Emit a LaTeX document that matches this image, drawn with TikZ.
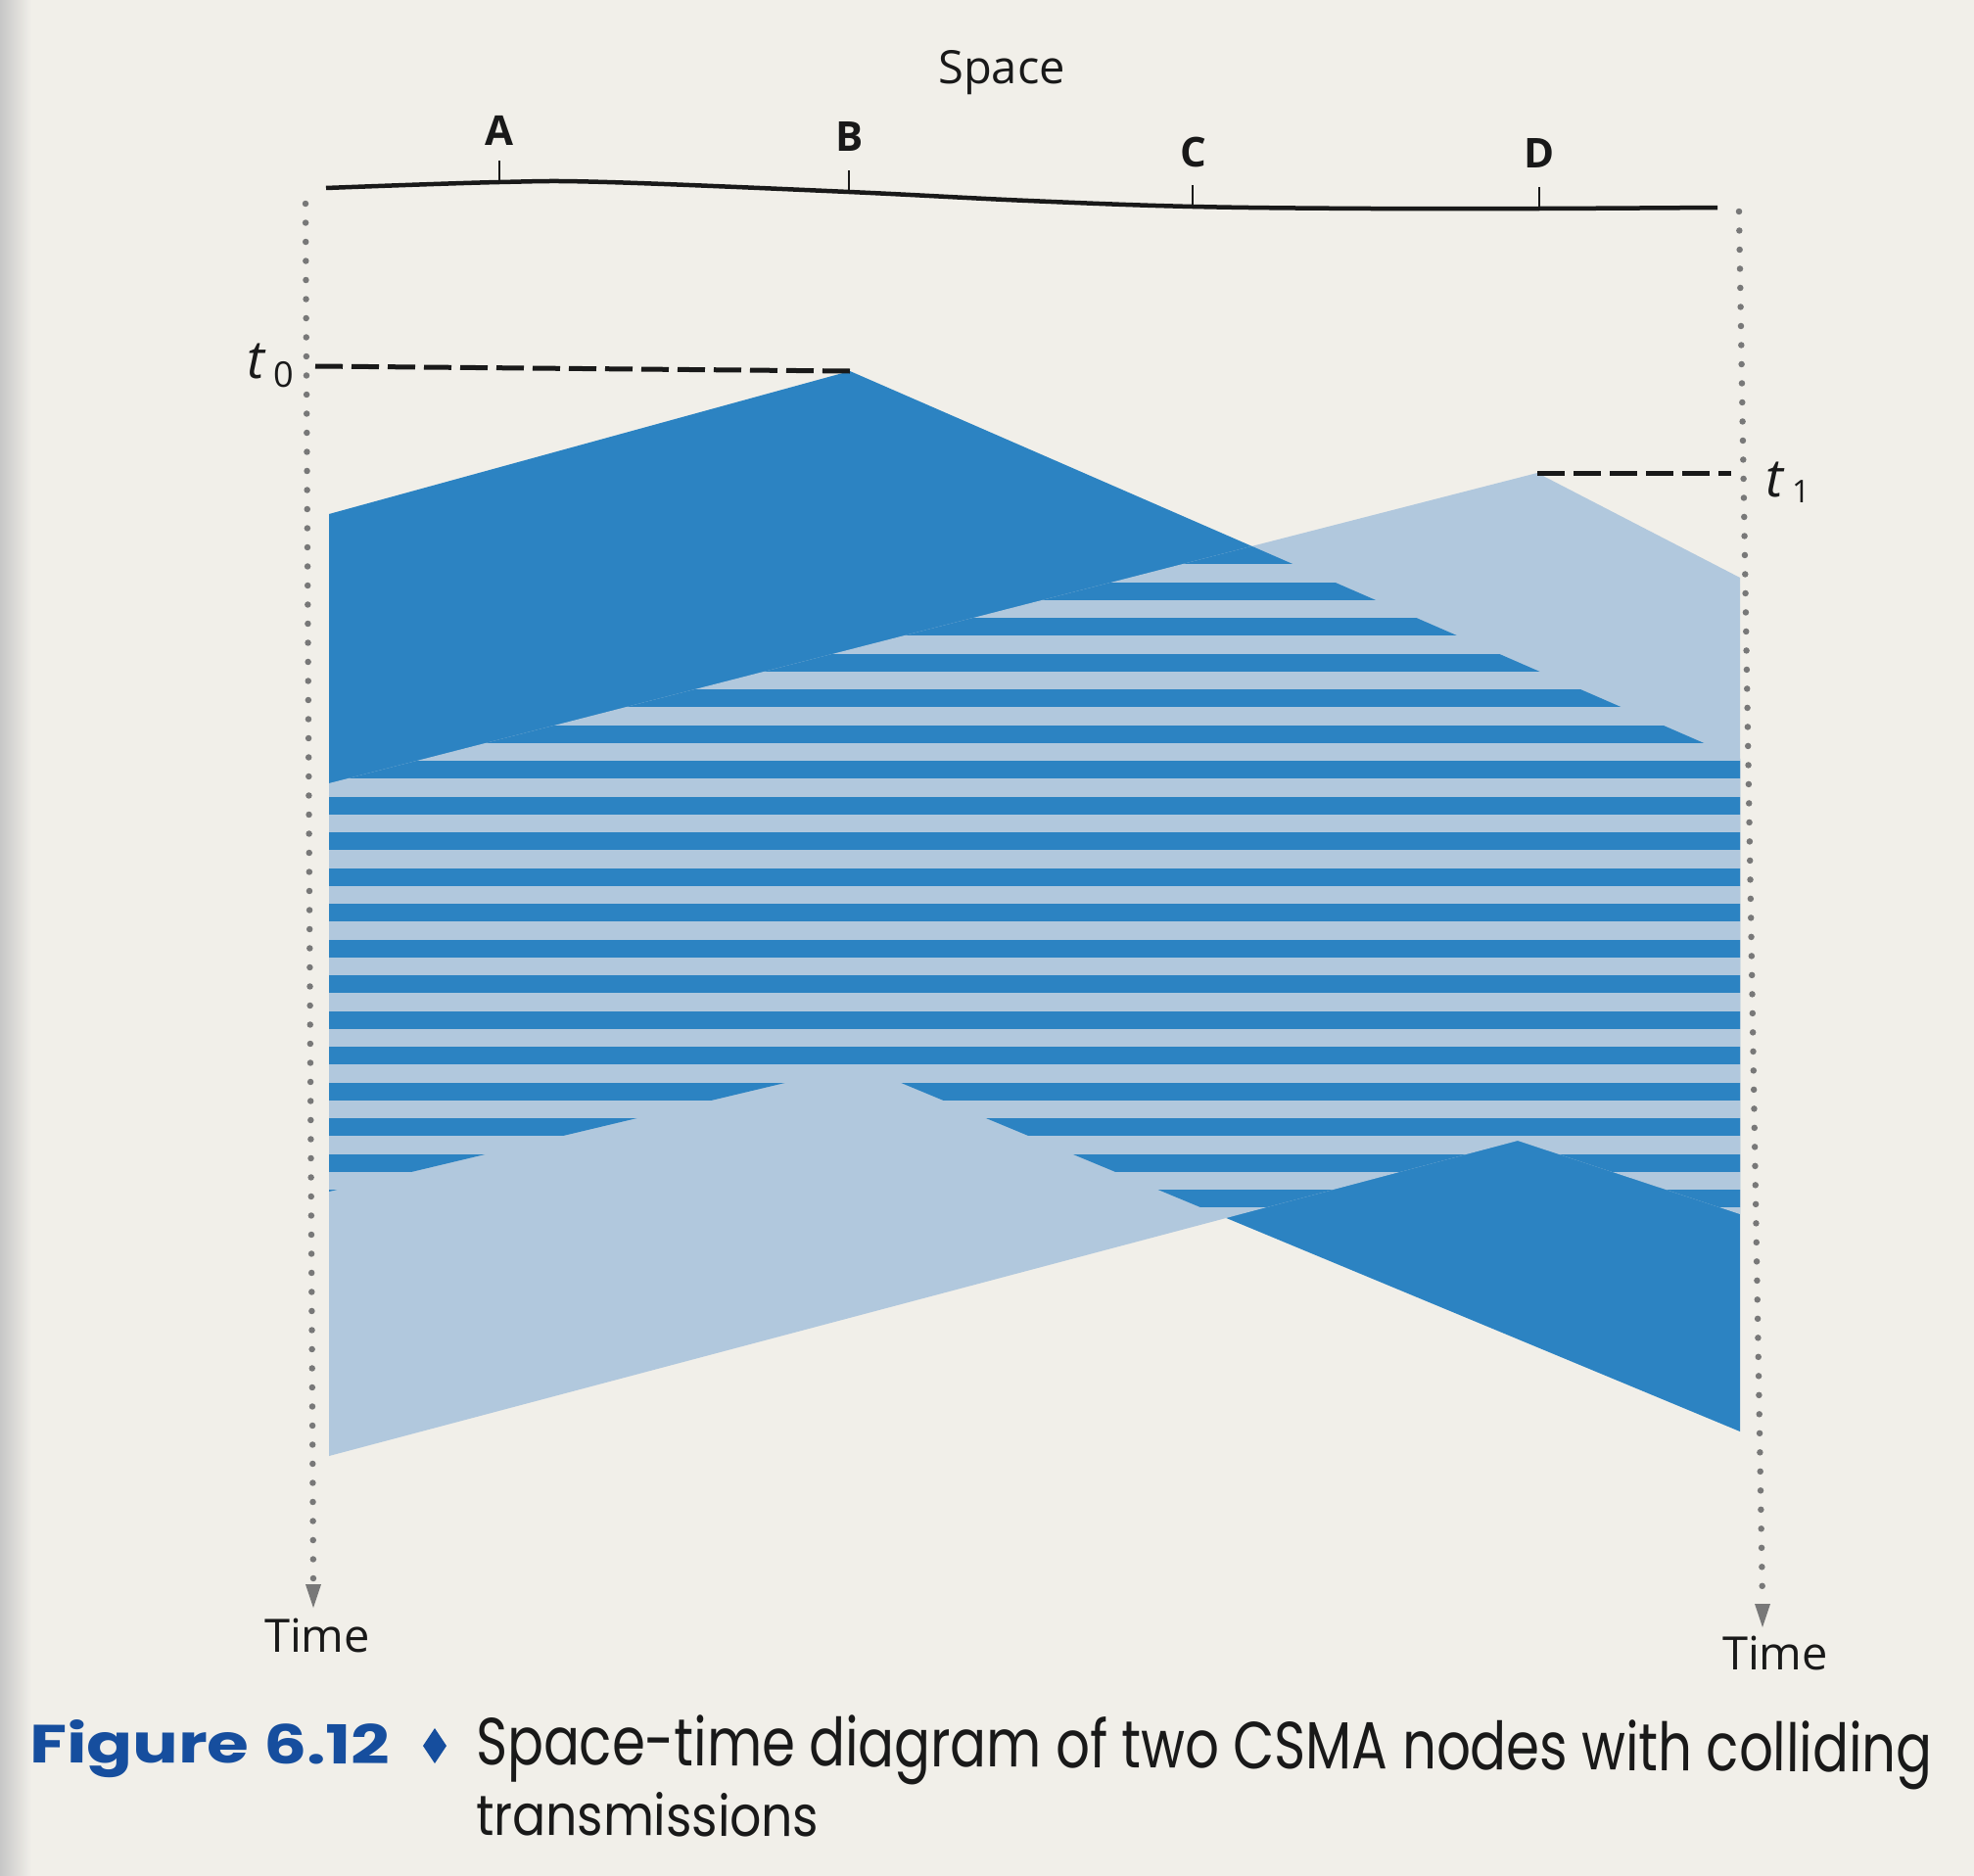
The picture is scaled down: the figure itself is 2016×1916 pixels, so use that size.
\documentclass[tikz,border=0pt]{standalone}
\usepackage{fontspec}
\usepackage{graphicx}
\setmainfont{Open Sans}
\newfontfamily\capfont{Poppins}
\definecolor{paper}{RGB}{241,239,233}
\definecolor{bdark}{RGB}{44,131,194}
\definecolor{blight}{RGB}{177,200,221}
\definecolor{figblue}{RGB}{22,78,158}
\definecolor{dotgray}{RGB}{120,120,120}
\definecolor{ink}{RGB}{25,25,25}
\begin{document}
\begin{tikzpicture}[x=1pt,y=-1pt,
  axisline/.style={line width=4.5pt, ink},
  tickmark/.style={line width=2pt, ink},
  nodelbl/.style={font=\bfseries\fontsize{42}{44}\selectfont, text=ink, inner sep=0pt},
  axlbl/.style={font=\fontsize{47}{50}\selectfont, text=ink, inner sep=0pt},
  tlbl/.style={font=\fontsize{54}{56}\selectfont, text=ink, inner sep=0pt},
  dashline/.style={line width=5pt, ink, dash pattern=on 28pt off 9pt},
  dotaxis/.style={line width=6.5pt, dotgray, line cap=round, dash pattern=on 0pt off 19.5pt},
  arrowtri/.style={fill=dotgray},
  capline/.style={font=\capfont, text=ink, inner sep=0pt},
]
\useasboundingbox (0,0) rectangle (2016,1916);
\fill[paper] (0,0) rectangle (2016,1916);
\shade[left color=black!22, right color=paper] (0,0) rectangle (32,1916);

% vertices of the two transmissions
\coordinate (d1) at (868,379);
\coordinate (d2) at (336,525);
\coordinate (d3) at (336,1217);
\coordinate (d4) at (877,1088);
\coordinate (d5) at (1777,1462);
\coordinate (d6) at (1777,775);
\coordinate (l1) at (1570,483);
\coordinate (l2) at (336,800);
\coordinate (l3) at (336,1487);
\coordinate (l4) at (1550,1165);
\coordinate (l5) at (1777,1240);
\coordinate (l6) at (1777,590);

\fill[bdark] (d1) -- (d2) -- (d3) -- (d4) -- (d5) -- (d6) -- cycle;
\fill[blight] (l1) -- (l2) -- (l3) -- (l4) -- (l5) -- (l6) -- cycle;
\begin{scope}
  \clip (d1) -- (d2) -- (d3) -- (d4) -- (d5) -- (d6) -- cycle;
  \clip (l1) -- (l2) -- (l3) -- (l4) -- (l5) -- (l6) -- cycle;
  \foreach \k in {-8,...,13}
    \fill[bdark] (320,777+36.5*\k) rectangle (1800,795+36.5*\k);
\end{scope}

% space axis
\draw[axisline] plot[smooth, tension=0.6] coordinates {(333,192) (510,186) (620,186) (867,196) (1050,205) (1218,211) (1400,213) (1572,213) (1754,212)};
\coordinate (tA) at (510,186);
\coordinate (tB) at (867,196);
\coordinate (tC) at (1218,211);
\coordinate (tD) at (1572,213);
\draw[tickmark] (tA) -- ++(0,-22);
\draw[tickmark] (tB) -- ++(0,-22);
\draw[tickmark] (tC) -- ++(0,-22);
\draw[tickmark] (tD) -- ++(0,-22);
\node[nodelbl] (A) at (510,133) {A};
\node[nodelbl] (B) at (868,140) {B};
\node[nodelbl] (C) at (1219,155) {C};
\node[nodelbl] (D) at (1572,157) {D};
\node[axlbl] (space) at (1023,74) {Space};

% time axes
\coordinate (LTop) at (312,208);
\coordinate (LEnd) at (320,1618);
\coordinate (RTop) at (1776,216);
\coordinate (REnd) at (1800,1638);
\draw[dotaxis] (LTop) -- (LEnd);
\draw[dotaxis] (RTop) -- (REnd);
\fill[arrowtri] (LEnd) ++(-8,0) -- ++(16,0) -- ++(-8,24) -- cycle;
\fill[arrowtri] (REnd) ++(-8,0) -- ++(16,0) -- ++(-8,24) -- cycle;
\node[axlbl] (timeL) at (324,1670) {Time};
\node[axlbl] (timeR) at (1813,1688) {Time};

% t0 and t1
\node[tlbl, anchor=base west] (t0) at (252,386) {\itshape t\,\raisebox{-9pt}{\upshape\fontsize{36}{38}\selectfont 0}};
\coordinate (t0a) at (322,374);
\draw[dashline] (t0a) -- (d1);
\node[tlbl, anchor=base west] (t1) at (1803,507) {\itshape t\,\raisebox{-6pt}{\upshape\fontsize{32}{34}\selectfont 1}};
\coordinate (t1a) at (1768,483);
\draw[dashline] (l1) -- (t1a);

% caption
\node[capline, anchor=base west, rotate=-0.3, text=figblue] (figno) at (30,1800) {\resizebox{368pt}{44pt}{\bfseries Figure 6.12}};
\fill[figblue] (444,1765) -- (456,1783) -- (444,1801) -- (432,1783) -- cycle;
\node[capline, anchor=base west, rotate=-0.3] (cap1) at (486,1802) {\resizebox{1487pt}{52pt}{Space-time diagram of two CSMA nodes with colliding}};
\node[capline, anchor=base west, rotate=-0.3] (cap2) at (486,1874) {\resizebox{350pt}{44pt}{transmissions}};
\end{tikzpicture}
\end{document}
